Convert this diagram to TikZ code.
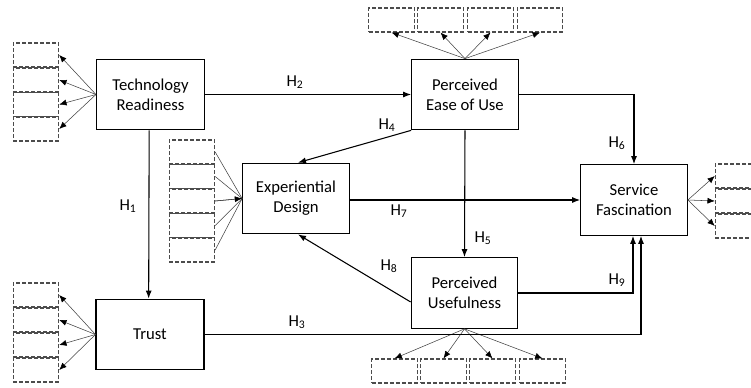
\documentclass[tikz,border=0pt]{standalone}
\usepackage{fontspec}
\setmainfont{Carlito}
\usetikzlibrary{arrows.meta}

\begin{document}
\begin{tikzpicture}[x=0.75pt,y=-0.75pt]
  % Define construct, indicator and arrow styles
  \tikzstyle{construct} = [draw=black, fill=white, line width=0.8pt,
  rectangle, minimum width=80pt, minimum height=53pt, align=center,
  font=\fontsize{12.5}{15}\selectfont, inner sep=2pt]
  \tikzstyle{indicator} = [draw=black!70, line width=0.8pt, dash pattern=on 3pt off 1.5pt,
  rectangle, minimum width=34pt, minimum height=18pt, inner sep=0pt]
  \tikzstyle{hyparrow} = [draw=black, line width=0.8pt, -{Latex[length=6pt,width=4.5pt]}]
  \tikzstyle{loading} = [draw=black!75, line width=0.4pt, -{Latex[length=5.5pt,width=4.5pt,black]}]
  \tikzstyle{hyp} = [font=\fontsize{12.5}{14}\selectfont, inner sep=0pt]

  \useasboundingbox (0,0) rectangle (751,388);

  % Constructs
  \node[construct, minimum width=81pt] (tr) at (150.5,94.5) {Technology\\Readiness};
  \node[construct] (peu) at (465,94.5) {Perceived\\Ease of Use};
  \node[construct] (ed) at (296,198.5) {Experiential\\Design};
  \node[construct] (sf) at (634,200) {Service\\Fascination};
  \node[construct, minimum width=81pt] (trust) at (150,334.5) {Trust};
  \node[construct] (pu) at (464.5,293) {Perceived\\Usefulness};

  % Indicators
  \foreach \y [count=\i] in {55,80,104.5,129} {
    \node[indicator] (tri\i) at (36,\y) {};
    \draw[loading] (tr.west) -- (tri\i.east);
  }
  \foreach \y [count=\i] in {295,320,345,370} {
    \node[indicator] (tsi\i) at (36,\y) {};
    \draw[loading] (trust.west) -- (tsi\i.east);
  }
  \foreach \y [count=\i] in {152,176.5,201,225.5,250} {
    \node[indicator] (edi\i) at (192,\y) {};
    \draw[loading, -] (edi\i.east) -- (ed.west);
  }
  \draw[loading] (edi3.east) -- (ed.west);
  \foreach \y [count=\i] in {176,201,226} {
    \node[indicator] (sfi\i) at (738,\y) {};
    \draw[loading] (sf.east) -- (sfi\i.west);
  }
  \foreach \x [count=\i] in {391.5,440.5,490.5,540} {
    \node[indicator] (peui\i) at (\x,20) {};
    \draw[loading] (peu.north) -- (peui\i.south);
  }
  \foreach \x [count=\i] in {394.5,443.5,492.5,542.5} {
    \node[indicator] (pui\i) at (\x,371) {};
    \draw[loading] (pu.south) -- (pui\i.north);
  }

  % Hypotheses
  \draw[hyparrow] (tr.east) -- (peu.west);
  \draw[hyparrow] ([xshift=-1pt]tr.south) -- ([xshift=-1pt]trust.north);
  \draw[hyparrow] (peu.east) -| (sf.north);
  \draw[hyparrow] (peu.south west) -- ([xshift=1.5pt]ed.north);
  \draw[hyparrow] (ed.east |- sf.west) -- (sf.west);
  \draw[hyparrow] (peu.south) -- (pu.north);
  \draw[hyparrow] ([yshift=-6.75pt]pu.west) -- ([xshift=1.5pt]ed.south);
  \draw[hyparrow] (pu.east) -| ([xshift=-0.75pt]sf.south);
  \draw[hyparrow] (trust.east) -| ([xshift=5.25pt]sf.south);

  \node[hyp] (h1) at (128,206) {H\textsubscript{1}};
  \node[hyp] (h2) at (295,82) {H\textsubscript{2}};
  \node[hyp] (h3) at (297,322) {H\textsubscript{3}};
  \node[hyp] (h4) at (387,125) {H\textsubscript{4}};
  \node[hyp] (h5) at (483,238) {H\textsubscript{5}};
  \node[hyp] (h6) at (617,143) {H\textsubscript{6}};
  \node[hyp] (h7) at (399,211) {H\textsubscript{7}};
  \node[hyp] (h8) at (389,266) {H\textsubscript{8}};
  \node[hyp] (h9) at (617,280) {H\textsubscript{9}};
\end{tikzpicture}
\end{document}
